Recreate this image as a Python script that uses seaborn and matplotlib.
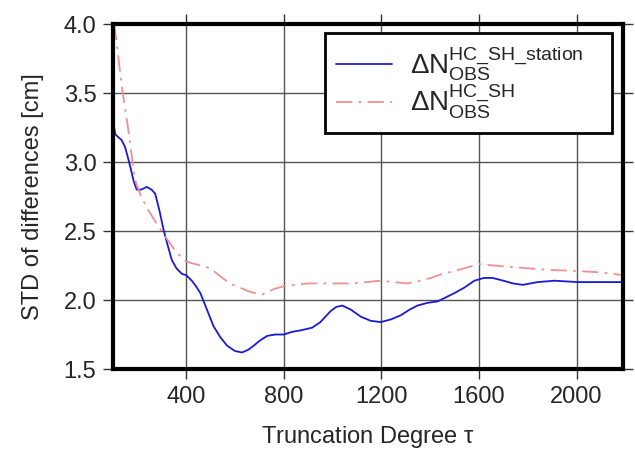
import numpy as np
import pandas as pd
import matplotlib
matplotlib.use("Agg")
import matplotlib.pyplot as plt
import seaborn as sns

# ---- data ----
deg_station = [100, 110, 122, 135, 149, 160, 170, 185, 197, 215, 238, 258, 273, 290, 307,
               325, 341, 360, 382, 400, 423, 440, 458, 485, 512, 540, 567, 600, 629, 655,
               677, 705, 732, 765, 800, 835, 869, 917, 950, 992, 1015, 1040, 1075, 1115,
               1155, 1197, 1240, 1280, 1315, 1348, 1390, 1430, 1465, 1499, 1540, 1581,
               1620, 1656, 1700, 1740, 1780, 1840, 1910, 2006, 2100, 2190]
std_station = [3.29, 3.20, 3.18, 3.16, 3.11, 3.04, 2.97, 2.86, 2.80, 2.80, 2.82, 2.80, 2.77,
               2.65, 2.51, 2.39, 2.29, 2.23, 2.19, 2.18, 2.14, 2.10, 2.05, 1.93, 1.81, 1.73,
               1.67, 1.63, 1.62, 1.64, 1.67, 1.71, 1.74, 1.75, 1.75, 1.77, 1.78, 1.80, 1.84,
               1.92, 1.95, 1.96, 1.93, 1.88, 1.85, 1.84, 1.86, 1.89, 1.93, 1.96, 1.98, 1.99,
               2.02, 2.05, 2.09, 2.14, 2.16, 2.16, 2.14, 2.12, 2.11, 2.13, 2.14, 2.13, 2.13,
               2.13]

deg_sh = [103, 108, 136, 163, 190, 215, 245, 280, 314, 350, 389, 416, 460, 500, 540, 580,
          620, 660, 711, 760, 800, 896, 985, 1074, 1140, 1197, 1250, 1307, 1360, 1403, 1450,
          1499, 1560, 1601, 1660, 1732, 1869, 2006, 2100, 2190]
std_sh = [4.00, 3.96, 3.55, 3.23, 2.87, 2.75, 2.65, 2.55, 2.46, 2.37, 2.29, 2.27, 2.25,
          2.23, 2.17, 2.12, 2.09, 2.06, 2.04, 2.08, 2.10, 2.12, 2.12, 2.12, 2.13, 2.14,
          2.13, 2.12, 2.14, 2.16, 2.19, 2.21, 2.24, 2.26, 2.25, 2.24, 2.22, 2.21, 2.20, 2.18]

label_station = r'$\Delta N^{HC\_SH\_station}_{OBS}$' + '   '
label_sh = r'$\Delta N^{HC\_SH}_{OBS}$'

x_ticks = [400, 800, 1200, 1600, 2000]
y_ticks = [1.5, 2.0, 2.5, 3.0, 3.5, 4.0]

df = pd.concat([
    pd.DataFrame({"deg": deg_station, "std": std_station, "series": label_station}),
    pd.DataFrame({"deg": deg_sh, "std": std_sh, "series": label_sh}),
], ignore_index=True)

sns.set_theme(style="white")
plt.rcParams['font.family'] = ['Liberation Sans', 'DejaVu Sans']
plt.rcParams['mathtext.fontset'] = 'custom'
plt.rcParams['mathtext.rm'] = 'Liberation Sans'
plt.rcParams['mathtext.it'] = 'Liberation Sans:italic'
plt.rcParams['mathtext.default'] = 'regular'

fig = plt.figure(figsize=(6.35, 4.55), dpi=100)
ax = fig.add_axes([0.178, 0.189, 0.803, 0.758])

palette = {label_station: "#1a1ad6", label_sh: "#f29090"}
sns.lineplot(data=df, x="deg", y="std", hue="series", palette=palette,
             sort=False, estimator=None, ax=ax, linewidth=1.3, legend=False)
lines = ax.get_lines()
lines[1].set_linestyle((0, (9, 3.5, 1.5, 3.5)))

ax.set_xlim(100, 2190)
ax.set_ylim(1.5, 4.0)
ax.set_xticks(x_ticks)
ax.set_yticks(y_ticks)
ax.set_yticklabels([f"{v:.1f}" for v in y_ticks])
ax.grid(True, color="#555555", linewidth=1.0)
ax.set_axisbelow(True)
for s in ax.spines.values():
    s.set_linewidth(3.0)
    s.set_color("black")
ax.tick_params(direction="out", length=7, width=1.0, color="#333333",
               top=True, right=True, bottom=True, left=True,
               labelsize=17, pad=5)
ax.set_xlabel(r"Truncation Degree $\tau$", fontsize=17, labelpad=12)
ax.set_ylabel("STD of differences [cm]", fontsize=17, labelpad=14)

leg = ax.legend(lines[:2], [label_station, label_sh], loc="upper right",
                bbox_to_anchor=(0.978, 0.974), borderaxespad=0, fontsize=20,
                frameon=True, fancybox=False, framealpha=1, edgecolor="black",
                handlelength=2.0, handletextpad=0.65, labelspacing=0.0,
                borderpad=0.4)
leg.get_frame().set_linewidth(2.0)

fig.savefig("out.png", dpi=100)
